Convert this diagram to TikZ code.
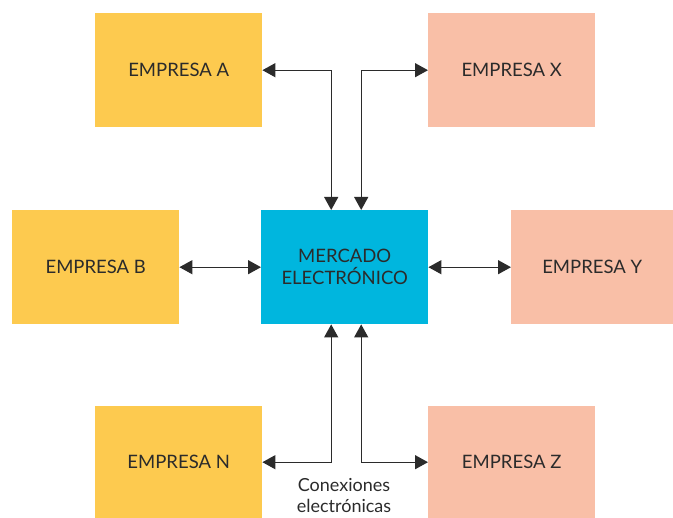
\documentclass[tikz,border=0pt]{standalone}
\usepackage{fontspec}
\setmainfont{Lato}
\usetikzlibrary{calc,arrows.meta}
\definecolor{firmyellow}{HTML}{FDCA4F}
\definecolor{firmsalmon}{HTML}{F9BFA7}
\definecolor{marketcyan}{HTML}{00B6DE}
\definecolor{inkgray}{HTML}{2B2B2B}
\begin{document}
\begin{tikzpicture}[x=1pt,y=-1pt,
  box/.style={anchor=north west,inner sep=0pt,minimum height=114pt,
    text=inkgray,font=\fontsize{18.5}{22}\selectfont,align=center},
  firm/.style={box,fill=firmyellow,minimum width=167pt},
  partner/.style={box,fill=firmsalmon,minimum width=167pt},
  link/.style={line width=1.3pt,draw=inkgray,
    {Triangle[length=13pt,width=14pt]}-{Triangle[length=13pt,width=14pt]}}]
\useasboundingbox (0,0) rectangle (673,518);
% companies
\node[firm] (A) at (95,13) {EMPRESA A};
\node[firm] (B) at (12,210) {EMPRESA B};
\node[firm,minimum height=112pt] (N) at (95,406) {EMPRESA N};
\node[partner] (X) at (428,13) {EMPRESA X};
\node[partner,minimum width=162pt] (Y) at (511,210) {EMPRESA Y};
\node[partner,minimum height=112pt] (Z) at (428,406) {EMPRESA Z};
% central market
\node[box,fill=marketcyan,minimum width=167pt] (M) at (261,210) {MERCADO\\ELECTRÓNICO};
% attachment points on the market
\coordinate (mtl) at ($(M.north)+(-13.5,0)$);
\coordinate (mtr) at ($(M.north)+(16.5,0)$);
\coordinate (mbl) at ($(M.south)+(-13.5,0)$);
\coordinate (mbr) at ($(M.south)+(16.5,0)$);
% connections
\draw[link] (A.east) -| (mtl);
\draw[link] (X.west) -| (mtr);
\draw[link] (N.east) -| (mbl);
\draw[link] (Z.west) -| (mbr);
\draw[link] (B.east) -- (B.east -| M.west);
\draw[link] (M.east |- Y.west) -- (Y.west);
\node[text=inkgray,font=\fontsize{18}{21}\selectfont,align=center] (cap) at (344,496) {Conexiones\\electrónicas};
\end{tikzpicture}
\end{document}
